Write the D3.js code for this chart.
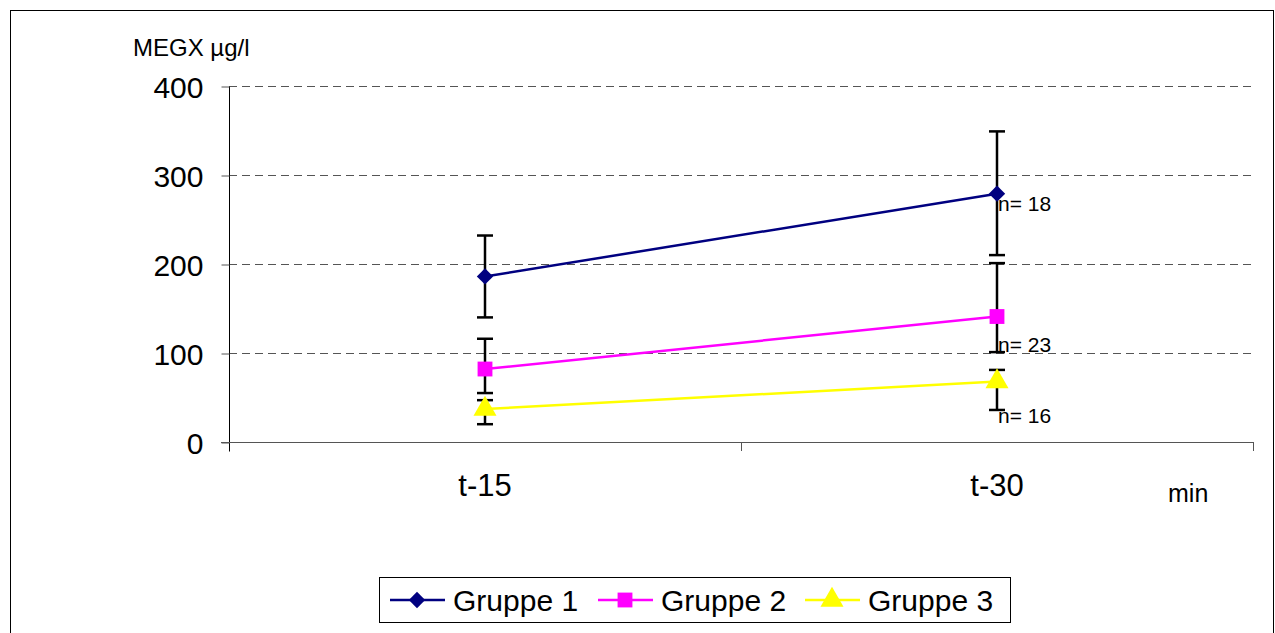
<!DOCTYPE html>
<html>
<head>
<meta charset="utf-8">
<script src="https://cdn.jsdelivr.net/npm/d3@7"></script>
<style>
  body { margin: 0; background: #fff; }
  svg { font-family: Arial, "Liberation Sans", sans-serif; }
</style>
</head>
<body>
<div id="chart"></div>
<script>
// data
const categories = ["t-15", "t-30"];
const seriesNames = ["Gruppe 1", "Gruppe 2", "Gruppe 3"];
const means = [[186, 279], [82, 141], [37, 68]];
const errLow = [[46, 69], [27, 40], [17, 32]];
const errHigh = [[46, 70], [34, 60], [10, 13]];
const nLabels = ["n= 18", "n= 23", "n= 16"];
const nLabelAt = [259, 101, 21];   // value level of each n label at t-30
const yTicks = [0, 100, 200, 300, 400];

const colors = ["#000080", "#ff00ff", "#ffff00"];
const symbols = [d3.symbolDiamond2, d3.symbolSquare, d3.symbolTriangle];

const W = 1275, H = 633;
const svg = d3.select("#chart").append("svg")
    .attr("width", W)
    .attr("height", H);

// outer frame
svg.append("rect")
    .attr("x", 10.5).attr("y", 10.5)
    .attr("width", 1263).attr("height", 640)
    .attr("fill", "none").attr("stroke", "#000").attr("stroke-width", 1);

const plot = {left: 229, right: 1253, top: 86, bottom: 442};

const x = d3.scaleBand()
    .domain(categories)
    .range([plot.left, plot.right]);

const y = d3.scaleLinear()
    .domain([0, 400])
    .range([plot.bottom, plot.top]);

// grid lines
svg.append("g").selectAll("line")
    .data(yTicks.filter(d => d > 0))
    .join("line")
    .attr("x1", plot.left).attr("x2", plot.right)
    .attr("y1", d => Math.round(y(d)) + 0.5).attr("y2", d => Math.round(y(d)) + 0.5)
    .attr("stroke", "#555")
    .attr("stroke-dasharray", "8,5");

// y axis
const yAxis = d3.axisLeft(y).tickValues(yTicks).tickSize(8).tickPadding(18);
const yg = svg.append("g")
    .attr("transform", `translate(${plot.left + 0.5},0.5)`)
    .call(yAxis);
yg.select(".domain").attr("d", `M0,${plot.top}V${plot.bottom + 9}`).attr("stroke", "#000");
yg.selectAll(".tick line").attr("stroke", "#555");
yg.selectAll("text").attr("font-size", 30).attr("fill", "#000").attr("dy", "0.35em");

// x axis
svg.append("line")
    .attr("x1", plot.left - 8).attr("x2", plot.right)
    .attr("y1", plot.bottom + 0.5).attr("y2", plot.bottom + 0.5)
    .attr("stroke", "#555");
const xBounds = categories.map(c => x(c) + x.bandwidth());
svg.append("g").selectAll("line")
    .data(xBounds)
    .join("line")
    .attr("x1", d => Math.round(d) + 0.5).attr("x2", d => Math.round(d) + 0.5)
    .attr("y1", plot.bottom).attr("y2", plot.bottom + 9)
    .attr("stroke", "#555");
svg.append("g").selectAll("text")
    .data(categories)
    .join("text")
    .attr("x", d => x(d) + x.bandwidth() / 2)
    .attr("y", 496)
    .attr("text-anchor", "middle")
    .attr("font-size", 31)
    .text(d => d);

// axis titles
svg.append("text").attr("x", 133).attr("y", 56).attr("font-size", 24).text("MEGX µg/l");
svg.append("text").attr("x", 1168).attr("y", 502).attr("font-size", 25).text("min");

const cx = c => x(c) + x.bandwidth() / 2;

// series lines
seriesNames.forEach((name, s) => {
    const line = d3.line()
        .x((d, i) => cx(categories[i]))
        .y(d => y(d));
    svg.append("path")
        .datum(means[s])
        .attr("d", line)
        .attr("fill", "none")
        .attr("stroke", colors[s])
        .attr("stroke-width", 2.5);
});

// error bars
seriesNames.forEach((name, s) => {
    const g = svg.append("g").attr("stroke", "#000").attr("stroke-width", 2.5);
    categories.forEach((c, i) => {
        const top = y(means[s][i] + errHigh[s][i]);
        const bot = y(means[s][i] - errLow[s][i]);
        const px = cx(c);
        g.append("line").attr("x1", px).attr("x2", px).attr("y1", top).attr("y2", bot);
        g.append("line").attr("x1", px - 8).attr("x2", px + 8).attr("y1", top).attr("y2", top);
        g.append("line").attr("x1", px - 8).attr("x2", px + 8).attr("y1", bot).attr("y2", bot);
    });
});

// markers
const markerSizes = [170, 220, 230];
seriesNames.forEach((name, s) => {
    svg.append("g").selectAll("path")
        .data(means[s])
        .join("path")
        .attr("transform", (d, i) => `translate(${cx(categories[i])},${y(d)})`)
        .attr("d", d3.symbol().type(symbols[s]).size(markerSizes[s]))
        .attr("fill", colors[s]);
});

// n labels at last point
svg.append("g").selectAll("text")
    .data(nLabels)
    .join("text")
    .attr("x", cx(categories[1]) + 1)
    .attr("y", (d, s) => y(nLabelAt[s]))
    .attr("font-size", 21)
    .text(d => d);

// legend
const lg = svg.append("g");
lg.append("rect")
    .attr("x", 379.5).attr("y", 577.5)
    .attr("width", 631).attr("height", 45)
    .attr("fill", "#fff").attr("stroke", "#000");
const legX = [390, 598, 805];
seriesNames.forEach((name, s) => {
    const gx = legX[s];
    lg.append("line")
        .attr("x1", gx).attr("x2", gx + 55)
        .attr("y1", 600).attr("y2", 600)
        .attr("stroke", colors[s]).attr("stroke-width", 2.5);
    lg.append("path")
        .attr("transform", `translate(${gx + 27},600)`)
        .attr("d", d3.symbol().type(symbols[s]).size(markerSizes[s]))
        .attr("fill", colors[s]);
    lg.append("text")
        .attr("x", gx + 63)
        .attr("y", 611)
        .attr("font-size", 30)
        .text(name);
});
</script>
</body>
</html>
